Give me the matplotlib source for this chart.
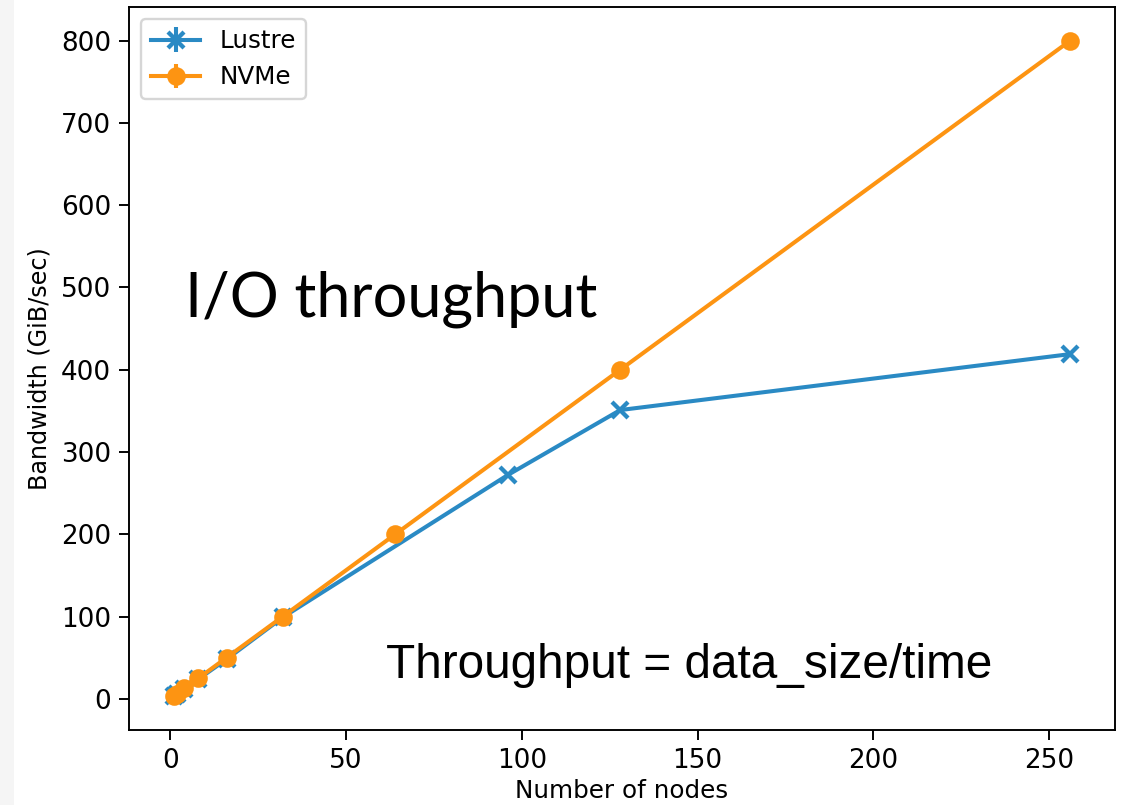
import matplotlib
matplotlib.use("Agg")
import matplotlib.pyplot as plt
from matplotlib.patches import Rectangle

# Data
lustre_nodes = [1, 2, 4, 8, 16, 32, 96, 128, 256]
lustre_bw = [3, 6, 12, 24, 48, 99, 272, 351, 419]
lustre_err = [1, 1, 2, 2, 3, 3, 4, 4, 4]

nvme_nodes = [1, 2, 4, 8, 16, 32, 64, 128, 256]
nvme_bw = [3.125, 6.25, 12.5, 25, 50, 100, 200, 400, 800]
nvme_err = [0.5, 0.5, 0.5, 1, 1, 1, 1, 1, 1]

DPI = 172
fig = plt.figure(figsize=(1125 / DPI, 805 / DPI), dpi=DPI)
fig.patches.append(Rectangle((0, 0), 14 / 1125, 1, transform=fig.transFigure,
                             facecolor="#f5f5f5", edgecolor="none", zorder=-1))
ax = fig.add_axes([129 / 1125, 1 - 730 / 805, (1115 - 129) / 1125, (730 - 7) / 805])

blue = "#2a8ac4"
orange = "#fd9412"
ax.errorbar(lustre_nodes, lustre_bw, yerr=lustre_err, marker="x", color=blue,
            label="Lustre", linewidth=1.7, markersize=7, markeredgewidth=1.8)
ax.errorbar(nvme_nodes, nvme_bw, yerr=nvme_err, marker="o", color=orange,
            label="NVMe", linewidth=1.7, markersize=6.8)

ax.tick_params(labelsize=11, length=4)
ax.set_xlabel("Number of nodes", fontsize=10.3, labelpad=2)
ax.set_ylabel("Bandwidth (GiB/sec)", fontsize=10)
ax.legend(loc="upper left", fontsize=10.3)

ax.text(4.3, 465, "I/O throughput", fontsize=25.6, family=["Lato", "DejaVu Sans"],
        va="baseline", ha="left")
ax.text(61.5, 25.5, "Throughput = data_size/time", fontsize=20.0,
        family=["Liberation Sans", "DejaVu Sans"], va="baseline", ha="left")

fig.savefig("out.png", dpi=DPI)
